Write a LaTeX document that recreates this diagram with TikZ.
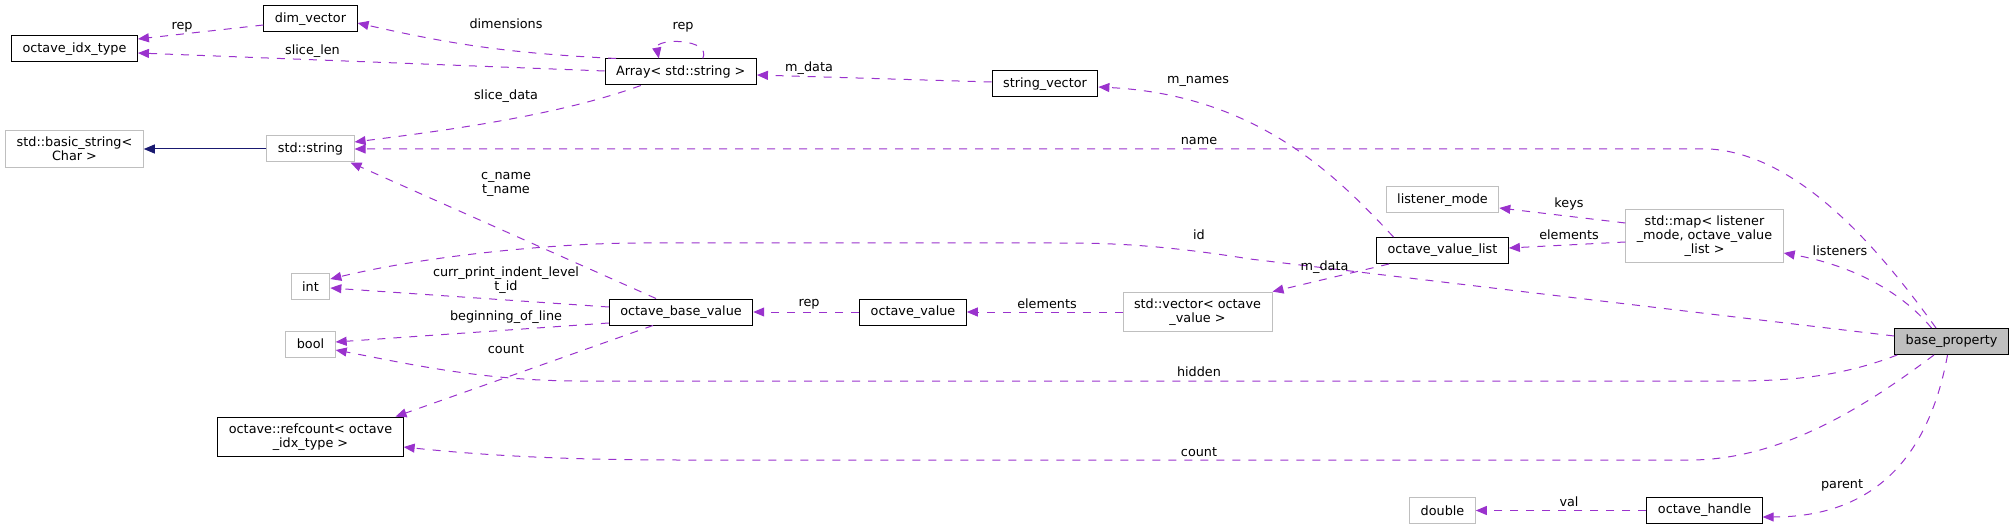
\documentclass[tikz,border=0pt]{standalone}
\usepackage{fontspec}
\setmainfont{DejaVu Sans}
\usepackage{xcolor}
\usepackage{tikz}
\usetikzlibrary{arrows.meta}
\definecolor{edgepurple}{HTML}{9A32CD}
\definecolor{inhblue}{HTML}{191970}
\definecolor{boxgrey}{HTML}{BFBFBF}
\newcommand{\dgfont}{\fontsize{12.8}{14}\selectfont}

\begin{document}
\begin{tikzpicture}[x=1pt, y=-1pt,
      clsbox/.style={rectangle, draw, line width=1pt, minimum height=26pt, inner xsep=11pt, inner ysep=6.5pt, align=center, font=\dgfont},
      docbox/.style={clsbox, draw=black},
      extbox/.style={clsbox, draw=boxgrey},
      curbox/.style={clsbox, draw=black, fill=boxgrey},
      lbl/.style={inner sep=0pt, align=center, font=\dgfont},
      mem/.style={-{Triangle[length=11pt, width=9pt]}, line width=1pt, draw=edgepurple, dash pattern=on 8pt off 8pt},
      inh/.style={-{Triangle[length=11pt, width=9pt]}, line width=1pt, draw=inhblue}]
      \useasboundingbox (0,0) rectangle (2015,529);
      \node[docbox] (idx) at (74.5,49) {octave\_idx\_type};
      \node[docbox] (dimv) at (310.5,18.7) {dim\_vector};
      \node[docbox] (arr) at (680.8,72) {Array< std::string >};
      \node[docbox] (strv) at (1045,84) {string\_vector};
      \node[extbox] (bstr) at (74.5,149) {std::basic\_string<\\Char >};
      \node[extbox] (str) at (310.5,149) {std::string};
      \node[extbox] (int) at (310.5,286.5) {int};
      \node[extbox] (bool) at (310.5,344) {bool};
      \node[docbox] (rc) at (310.5,437) {octave::refcount< octave\\\_idx\_type >};
      \node[docbox] (obv) at (681,312) {octave\_base\_value};
      \node[docbox] (ov) at (913,312) {octave\_value};
      \node[extbox] (vec) at (1197.5,312) {std::vector< octave\\\_value >};
      \node[docbox] (ovl) at (1442.5,250.5) {octave\_value\_list};
      \node[extbox] (lm) at (1442.5,200) {listener\_mode};
      \node[extbox] (map) at (1704.5,236) {std::map< listener\\\_mode, octave\_value\\\_list >};
      \node[curbox] (bp) at (1951.5,341.5) {base\_property};
      \node[extbox] (dbl) at (1442.5,510.5) {double};
      \node[docbox] (oh) at (1704.5,510.5) {octave\_handle};
      \draw[mem] ([yshift=-6.3pt]dimv.west) -- ([yshift=10pt]idx.east);
      \draw[mem] ([xshift=11.5pt]arr.north west) to[bend left=5] ([yshift=-4.3pt]dimv.east);
      \draw[mem] ([yshift=1pt]arr.west) -- ([yshift=-4pt]idx.east);
      \draw[mem] ([xshift=22pt]arr.north) .. controls (712,38) and (655,38) .. ([xshift=-22pt]arr.north);
      \draw[mem] ([yshift=2pt]strv.west) -- ([yshift=-3pt]arr.east);
      \draw[mem] ([xshift=-40pt]arr.south) .. controls (560,115) and (450,130) .. ([yshift=7pt]str.east);
      \draw[inh] (str) -- (bstr);
      \draw[mem] ([xshift=-15.5pt]bp.north) .. controls (1880,250) and (1800,155) .. (1710,149) -- (str.east);
      \draw[mem] ([xshift=-49pt]ovl.north) .. controls (1340,180) and (1260,95) .. ([yshift=-3pt]strv.east);
      \draw[mem] ([xshift=-25pt]obv.north) -- ([xshift=40pt]str.south);
      \draw[mem] ([yshift=5.5pt]bp.west) -- (1250,259) .. controls (1150,243) and (1100,243) .. (1050,243) -- (640,243) .. controls (560,243) and (430,255) .. ([yshift=7.5pt]int.east);
      \draw[mem] ([yshift=5pt]obv.west) -- ([yshift=-1.5pt]int.east);
      \draw[mem] ([yshift=-11pt]obv.west) -- ([yshift=2pt]bool.east);
      \draw[mem] ([xshift=-28pt]obv.south) -- ([xshift=85pt]rc.north);
      \draw[mem] ([xshift=3pt]bp.south west) .. controls (1840,377) and (1790,381) .. (1730,381) -- (580,381) .. controls (480,381) and (400,362) .. ([yshift=-6pt]bool.east);
      \draw[mem] ([xshift=-17.5pt]bp.south) .. controls (1880,395) and (1790,460) .. (1690,460) -- (680,460) .. controls (560,460) and (480,455) .. ([yshift=-10pt]rc.east);
      \draw[mem] (ov) -- (obv);
      \draw[mem] (vec) -- (ov);
      \draw[mem] ([xshift=-53.5pt]ovl.south) -- (vec.north east);
      \draw[mem] ([yshift=13pt]map.west) -- ([yshift=-8pt]lm.east);
      \draw[mem] ([yshift=-6pt]map.west) -- ([yshift=2.5pt]ovl.east);
      \draw[mem] ([xshift=-20pt]bp.north) .. controls (1900,290) and (1850,265) .. ([yshift=-17pt]map.east);
      \draw[mem] ([xshift=-4pt]bp.south) .. controls (1930,450) and (1880,517) .. ([yshift=-6.5pt]oh.east);
      \draw[mem] (oh) -- (dbl);
      \node[lbl] (l-rep) at (182,27) {rep};
      \node[lbl] (l-dim) at (506,24) {dimensions};
      \node[lbl] (l-slen) at (312.5,51) {slice\_len};
      \node[lbl] (l-arep) at (683,27) {rep};
      \node[lbl] (l-mdata) at (809,68) {m\_data};
      \node[lbl] (l-sdata) at (506,96) {slice\_data};
      \node[lbl] (l-name) at (1199,141) {name};
      \node[lbl] (l-mnames) at (1198,81) {m\_names};
      \node[lbl] (l-cname) at (506,184.5) {c\_name\\t\_name};
      \node[lbl] (l-id) at (1199,235) {id};
      \node[lbl] (l-indent) at (506,280) {curr\_print\_indent\_level\\t\_id};
      \node[lbl] (l-bol) at (506,317) {beginning\_of\_line};
      \node[lbl] (l-count) at (506,349) {count};
      \node[lbl] (l-orep) at (809,304) {rep};
      \node[lbl] (l-elem) at (1047,304) {elements};
      \node[lbl] (l-vdata) at (1324.5,267) {m\_data};
      \node[lbl] (l-hidden) at (1199,372) {hidden};
      \node[lbl] (l-bcount) at (1199,452) {count};
      \node[lbl] (l-keys) at (1569,204) {keys};
      \node[lbl] (l-melem) at (1569,235) {elements};
      \node[lbl] (l-lis) at (1840,251) {listeners};
      \node[lbl] (l-par) at (1842,485) {parent};
      \node[lbl] (l-val) at (1569,502) {val};
    \end{tikzpicture}
\end{document}
